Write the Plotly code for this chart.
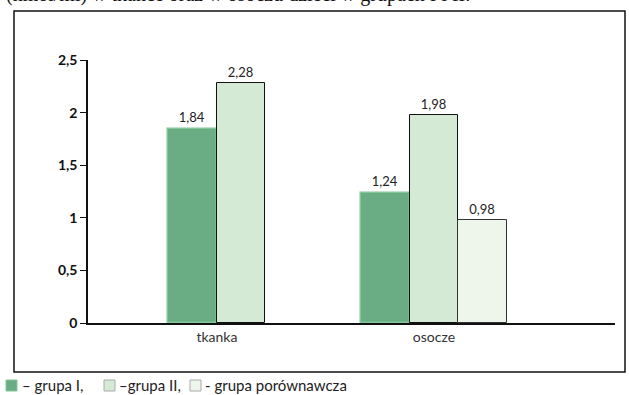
import plotly.graph_objects as go

categories = ["tkanka", "osocze"]
grupa_1 = [1.84, 1.24]
grupa_2 = [2.28, 1.98]
grupa_por = [None, 0.98]
y_ticks = [0, 0.5, 1, 1.5, 2, 2.5]
y_ticklabels = ["0", "0,5", "1", "1,5", "2", "2,5"]
legend_labels = ["– grupa I,", "–grupa II,", "- grupa porównawcza"]

colors = ["#6aad84", "#d4ead5", "#eef5ea"]
edges = ["#84c598", "#111", "#333"]

PW, PH = 527, 263   # plot area in px
L, T = 88, 60

def px_x(x):
    return (x - L) / PW

def px_y(y):
    return (T + PH - y) / PH

W = 0.2235
fig = go.Figure()
for vals, name, col, edge, offs, lw in [
    (grupa_1, legend_labels[0], colors[0], edges[0], [-W, -1.5 * W], 1.5),
    (grupa_2, legend_labels[1], colors[1], edges[1], [0, -0.5 * W], 1),
    (grupa_por, legend_labels[2], colors[2], edges[2], [0.5 * W, 0.5 * W], 1),
]:
    fig.add_trace(go.Bar(
        x=categories, y=vals, name=name,
        width=W, offset=offs,
        marker=dict(color=col, line=dict(color=edge, width=lw)),
        text=[("" if v is None else f"{v:.2f}".replace(".", ",")) for v in vals],
        textposition="outside",
        textfont=dict(family="Lato", size=13, color="#222"), cliponaxis=False,
        showlegend=False,
    ))

shapes = [dict(type="rect", xref="paper", yref="paper",
               x0=px_x(14), x1=px_x(625), y0=px_y(372), y1=px_y(11),
               line=dict(color="#111", width=1.5), fillcolor="rgba(0,0,0,0)")]
annotations = [dict(text="(nmol/ml) w tkance oraz w osoczu dzieci w grupach I i II.",
                    xref="paper", yref="paper", x=px_x(4), y=px_y(8),
                    xanchor="left", yanchor="bottom", showarrow=False,
                    font=dict(family="Liberation Serif", size=20, color="#111"))]
# custom legend
leg_x = [6, 104, 190]
text_x = [20, 117, 203]
for i in range(3):
    shapes.append(dict(type="rect", xref="paper", yref="paper",
                       x0=px_x(leg_x[i]), x1=px_x(leg_x[i] + 11),
                       y0=px_y(391), y1=px_y(380),
                       line=dict(color=edges[i] if i == 0 else "#aaa", width=1),
                       fillcolor=colors[i]))
    annotations.append(dict(text=legend_labels[i], xref="paper", yref="paper",
                            x=px_x(text_x[i]), y=px_y(385), xanchor="left",
                            yanchor="middle", showarrow=False,
                            font=dict(family="Lato", size=15, color="#222")))

fig.update_layout(
    width=629, height=395,
    margin=dict(l=L, r=629 - L - PW, t=T, b=395 - T - PH, autoexpand=False),
    paper_bgcolor="white", plot_bgcolor="white",
    separators=", ",
    showlegend=False,
    xaxis=dict(type="category", range=[-0.594, 1.834], showline=True,
               linecolor="#111", linewidth=1.5, ticks="", showgrid=False,
               tickfont=dict(family="Lato", size=14, color="#333")),
    yaxis=dict(range=[0, 2.5], tickvals=y_ticks, ticktext=y_ticklabels,
               showline=True, linecolor="#111", linewidth=1.5, ticks="outside",
               ticklen=6, tickcolor="#111", showgrid=False, zeroline=False,
               tickfont=dict(family="Lato", size=14, color="#111", weight="bold")),
    shapes=shapes,
    annotations=annotations,
    bargap=0,
)
fig.write_html("out.html")
